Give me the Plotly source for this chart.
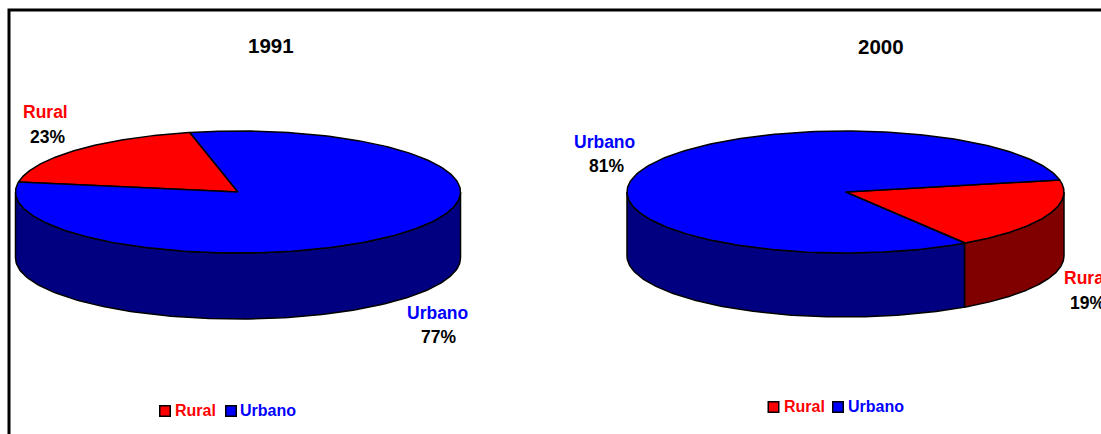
import numpy as np
import plotly.graph_objects as go

years = ["1991", "2000"]
categories = ["Rural", "Urbano"]
label_pct = {"1991": [23, 77], "2000": [19, 81]}
# Slice shares as actually drawn in the picture (percent of the ellipse sweep)
drawn_share = {"1991": [18.9, 81.1], "2000": [19.0, 81.0]}
# Sweep start of the rural slice, in degrees counter-clockwise from east
rural_start = {"1991": 102.5, "2000": -57.0}

top_colors = ["#ff0000", "#0000ff"]
side_colors = ["#800000", "#000080"]
geom = {
    "1991": dict(cx=238, cy=192, rx=222.5, ry=61, depth=66),
    "2000": dict(cx=845.5, cy=192, rx=218.5, ry=61, depth=64),
}

fig = go.Figure()


def ell(g, t, drop=0):
    t = np.radians(t)
    return g["cx"] + g["rx"] * np.cos(t), g["cy"] - g["ry"] * np.sin(t) + drop


def poly(x, y, fill, name):
    fig.add_trace(go.Scatter(
        x=np.round(x, 2).tolist(), y=np.round(y, 2).tolist(), mode="lines", fill="toself",
        fillcolor=fill, line=dict(color="#000000", width=1.5), hoverinfo="name",
        name=name, showlegend=False))


for yr in years:
    g = geom[yr]
    a0 = rural_start[yr]
    a1 = a0 + drawn_share[yr][0] * 3.6
    a2 = a1 + drawn_share[yr][1] * 3.6
    spans = [(a0, a1), (a1, a2)]
    # side walls: only the front half of the rim (180..360 degrees) shows
    for (s, e), cat, col in zip(spans, categories, side_colors):
        for k in (-360, 0, 360):
            lo, hi = max(s + k, 180), min(e + k, 360)
            if hi > lo:
                t = np.linspace(lo, hi, 160)
                xa, ya = ell(g, t)
                xb, yb = ell(g, t[::-1], g["depth"])
                poly(np.r_[xa, xb, xa[0]], np.r_[ya, yb, ya[0]], col, f"{cat} {yr}")
    # top faces, big slice first
    for (s, e), cat, col in zip(spans, categories, top_colors):
        t = np.linspace(s, e, 240)
        xa, ya = ell(g, t)
        poly(np.r_[g["cx"], xa, g["cx"]], np.r_[g["cy"], ya, g["cy"]], col, f"{cat} {yr}")

# legend keys
key_pos = {"1991": [(165, 411), (231, 411)], "2000": [(773.5, 407), (838, 407)]}
key_text_x = {"1991": [173, 238], "2000": [782, 846]}
key_text_y = {"1991": 410, "2000": 406}
for yr in years:
    for (kx, ky), cat, col in zip(key_pos[yr], categories, top_colors):
        fig.add_trace(go.Scatter(
            x=[kx], y=[ky], mode="markers", showlegend=False, name=cat, hoverinfo="name",
            marker=dict(symbol="square", size=10.5, color=col, line=dict(color="#000000", width=1.5))))

FONT = "Liberation Sans, Arial, sans-serif"
ann = []


def text(x, y, s, color, size, anchor="center"):
    ann.append(dict(x=x, y=y, xref="x", yref="y", text=f"<b>{s}</b>", showarrow=False,
                    xanchor=anchor, yanchor="middle", font=dict(family=FONT, size=size, color=color)))


text(271, 45, years[0], "#000000", 20.5)
text(881, 46, years[1], "#000000", 20.5)

label_pos = {
    "1991": [(21, 112, 47, 137, "left"), (437, 313, 438, 337, "center")],
    "2000": [(1062, 278, 1068, 303, "left"), (604, 142, 606, 166, "center")],
}
for yr in years:
    for i, (lx, ly, px, py, anc) in enumerate(label_pos[yr]):
        text(lx, ly, categories[i], top_colors[i], 17.5, anc)
        text(px, py, f"{label_pct[yr][i]}%", "#000000", 17.5, "left" if yr == "2000" and i == 0 else "center")
    for i in range(2):
        text(key_text_x[yr][i], key_text_y[yr], categories[i], top_colors[i], 16, "left")

fig.update_layout(
    width=1101, height=434, margin=dict(l=0, r=0, t=0, b=0),
    paper_bgcolor="#ffffff", plot_bgcolor="#ffffff", showlegend=False,
    xaxis=dict(range=[0, 1101], visible=False, fixedrange=True),
    yaxis=dict(range=[434, 0], visible=False, fixedrange=True),
    annotations=ann,
    shapes=[dict(type="rect", xref="x", yref="y", x0=9, y0=10, x1=1120, y1=450,
                 line=dict(color="#000000", width=3), layer="below")],
)
fig.write_html("out.html", config={"displayModeBar": False},
               post_script="document.body.style.margin='0';document.body.style.overflow='hidden';")
